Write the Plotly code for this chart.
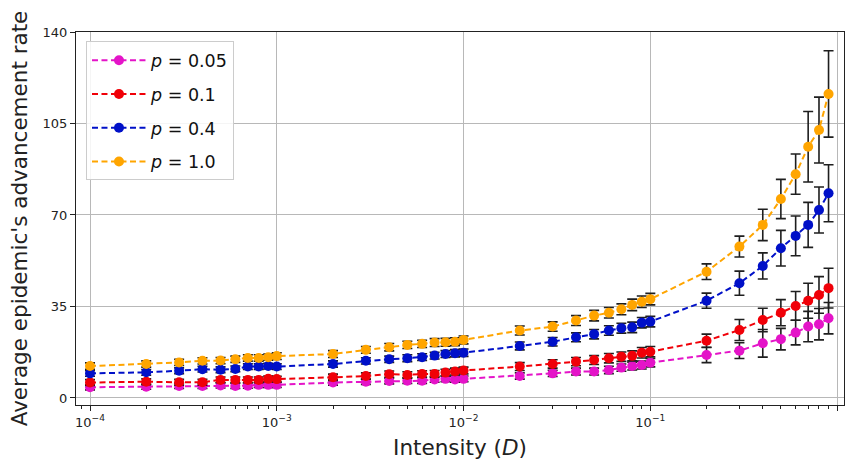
import plotly.graph_objects as go

# ---- data ----
intensity = [1e-4, 2e-4, 3e-4, 4e-4, 5e-4, 6e-4, 7e-4, 8e-4, 9e-4,
             1e-3, 2e-3, 3e-3, 4e-3, 5e-3, 6e-3, 7e-3, 8e-3, 9e-3,
             1e-2, 2e-2, 3e-2, 4e-2, 5e-2, 6e-2, 7e-2, 8e-2, 9e-2,
             0.1, 0.2, 0.3, 0.4, 0.5, 0.6, 0.7, 0.8, 0.9]

rate_p005 = [4.1, 4.3, 4.6, 4.6, 4.8, 4.6, 4.7, 5.0, 5.0,
             5.0, 5.9, 6.2, 6.5, 6.6, 6.6, 7.1, 7.3, 7.1,
             7.3, 8.4, 9.4, 10.1, 10.1, 10.7, 11.6, 12.2, 12.6,
             13.5, 16.4, 18.1, 20.9, 22.5, 25.0, 27.3, 28.2, 30.5]
err_p005 = [1.0, 1.0, 1.0, 1.0, 1.0, 1.0, 1.0, 1.0, 1.0,
            1.0, 1.0, 1.0, 1.1, 1.1, 1.1, 1.1, 1.1, 1.1,
            1.1, 1.2, 1.2, 1.3, 1.3, 1.4, 1.4, 1.5, 1.5,
            1.6, 2.9, 3.0, 5.3, 4.1, 4.7, 5.8, 6.0, 6.0]

rate_p01 = [5.9, 6.2, 6.0, 6.0, 6.9, 6.9, 6.9, 6.9, 7.3,
            7.2, 7.9, 8.4, 9.1, 8.8, 9.2, 9.2, 9.7, 10.1,
            10.5, 12.0, 13.0, 13.9, 14.5, 15.2, 15.8, 16.1, 17.3,
            17.7, 21.9, 26.0, 29.8, 32.6, 35.2, 37.2, 39.4, 42.0]
err_p01 = [1.1, 1.1, 1.1, 1.1, 1.1, 1.1, 1.1, 1.1, 1.1,
           1.1, 1.2, 1.2, 1.2, 1.2, 1.2, 1.3, 1.3, 1.3,
           1.3, 1.5, 1.6, 1.6, 1.7, 1.8, 1.8, 1.9, 2.0,
           2.0, 2.5, 4.0, 4.5, 5.0, 5.5, 6.7, 7.0, 7.6]

rate_p04 = [9.4, 9.8, 10.4, 11.0, 10.8, 11.1, 12.0, 12.0, 12.2,
            12.0, 13.0, 14.2, 14.8, 15.2, 15.6, 16.2, 16.8, 17.1,
            17.3, 19.9, 21.5, 23.2, 24.4, 25.8, 26.7, 27.0, 28.8,
            29.2, 37.2, 43.9, 50.5, 57.3, 62.0, 66.2, 71.9, 78.3]
err_p04 = [1.1, 1.1, 1.1, 1.1, 1.1, 1.1, 1.1, 1.1, 1.1,
           1.1, 1.2, 1.2, 1.2, 1.3, 1.3, 1.3, 1.3, 1.4,
           1.4, 1.5, 1.6, 1.7, 1.8, 1.8, 1.9, 2.0, 2.0,
           2.0, 2.9, 4.6, 5.0, 6.8, 7.6, 8.6, 8.8, 10.9]

rate_p10 = [12.2, 13.0, 13.6, 14.2, 14.3, 14.8, 15.3, 15.3, 15.6,
            16.0, 16.8, 18.4, 19.4, 20.3, 20.7, 21.2, 21.3, 21.5,
            22.2, 25.8, 27.3, 29.6, 31.5, 32.6, 33.9, 35.6, 36.8,
            37.8, 48.3, 57.9, 66.2, 76.1, 85.6, 96.1, 102.5, 116.3]
err_p10 = [1.2, 1.2, 1.2, 1.2, 1.2, 1.2, 1.2, 1.2, 1.2,
           1.3, 1.3, 1.3, 1.4, 1.4, 1.4, 1.5, 1.5, 1.5,
           1.5, 1.7, 1.8, 1.9, 2.0, 2.0, 2.1, 2.2, 2.2,
           2.2, 3.0, 4.0, 6.0, 7.5, 7.7, 13.5, 12.6, 16.5]

series_names = ["<i>p</i> = 0.05", "<i>p</i> = 0.1", "<i>p</i> = 0.4", "<i>p</i> = 1.0"]
series_vals = [rate_p005, rate_p01, rate_p04, rate_p10]
series_errs = [err_p005, err_p01, err_p04, err_p10]
colors = ["#e414c8", "#f00008", "#0010c8", "#ffa500"]

x_ticks = [1e-4, 1e-3, 1e-2, 1e-1, 1e0]
x_ticktext = ["10<sup>−4</sup>", "10<sup>−3</sup>", "10<sup>−2</sup>", "10<sup>−1</sup>", "10<sup>0</sup>"]
y_ticks = [0, 35, 70, 105, 140]

minor_vals = [m * 10.0 ** e for e in range(-5, 0) for m in range(2, 10)]

fig = go.Figure()
for i, (name, vals, errs, c) in enumerate(zip(series_names, series_vals, series_errs, colors)):
    fig.add_trace(go.Scatter(
        x=intensity, y=vals, name=name, mode="lines+markers",
        legendgroup=f"g{i}",
        line=dict(color=c, width=2, dash="6px,3.5px"),
        marker=dict(color=c, size=10, line=dict(width=0)),
        error_y=dict(type="data", array=errs, visible=True,
                     color="#1e1e1e", thickness=1.6, width=5),
    ))

axis_font = dict(family="DejaVu Sans", size=13, color="#222")
title_font = dict(family="DejaVu Sans", size=21.5, color="#222")
fig.update_layout(
    width=846, height=468,
    margin=dict(l=76, r=2, t=32, b=63),
    paper_bgcolor="white", plot_bgcolor="white",
    font=dict(family="DejaVu Sans", color="#222"),
    showlegend=True,
    legend=dict(
        x=0.013, y=0.975, xanchor="left", yanchor="top",
        bgcolor="rgba(255,255,255,0.85)", bordercolor="#cccccc", borderwidth=1,
        font=dict(family="DejaVu Sans", size=17.5, color="#111"),
        tracegroupgap=8, itemwidth=54,
    ),
    xaxis=dict(
        type="log", range=[-4.075, 0.037],
        tickvals=x_ticks, ticktext=x_ticktext, tickfont=axis_font,
        ticks="outside", ticklen=5, tickcolor="#222",
        showgrid=True, gridcolor="#b8b8b8", gridwidth=1,
        showline=True, linecolor="#222", linewidth=1.2, mirror=True,
        zeroline=False,
        minor=dict(tickvals=minor_vals, ticks="outside", ticklen=3, tickcolor="#222", showgrid=False),
        title=dict(text="Intensity (<i>D</i>)", font=title_font, standoff=11),
    ),
    yaxis=dict(
        range=[-2.7, 140],
        tickvals=y_ticks, tickfont=axis_font,
        ticks="outside", ticklen=5, tickcolor="#222",
        showgrid=True, gridcolor="#b8b8b8", gridwidth=1,
        showline=True, linecolor="#222", linewidth=1.2, mirror=True,
        zeroline=False,
        title=dict(text="Average epidemic's advancement rate", font=title_font, standoff=8),
    ),
)

fig.write_html("out.html")
